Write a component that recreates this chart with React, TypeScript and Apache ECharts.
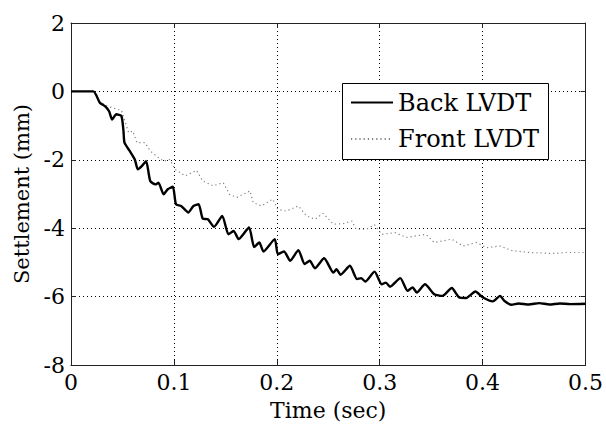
import React, { useEffect, useRef } from "react";
import * as echarts from "echarts";

const xTicks = [0, 0.1, 0.2, 0.3, 0.4, 0.5];
const yTicks = [-8, -6, -4, -2, 0, 2];

const backTime = [0, 0.0217, 0.028, 0.033, 0.037, 0.040, 0.044, 0.049, 0.051, 0.052, 0.057, 0.062, 0.065, 0.069, 0.073, 0.077, 0.082, 0.085, 0.090, 0.094, 0.099, 0.102, 0.107, 0.114, 0.119, 0.124, 0.128, 0.133, 0.139, 0.147, 0.153, 0.158, 0.163, 0.173, 0.178, 0.183, 0.187, 0.198, 0.201, 0.207, 0.213, 0.221, 0.227, 0.232, 0.237, 0.246, 0.255, 0.258, 0.262, 0.271, 0.278, 0.282, 0.286, 0.295, 0.302, 0.306, 0.310, 0.320, 0.327, 0.332, 0.336, 0.344, 0.353, 0.361, 0.370, 0.377, 0.384, 0.393, 0.400, 0.410, 0.417, 0.421, 0.428, 0.435, 0.445, 0.455, 0.465, 0.475, 0.485, 0.5];
const backValue = [0, 0, -0.33, -0.43, -0.58, -0.82, -0.67, -0.72, -1.16, -1.5, -1.74, -1.99, -2.28, -2.18, -2.04, -2.62, -2.72, -2.67, -3.01, -2.86, -2.79, -3.30, -3.35, -3.54, -3.35, -3.30, -3.72, -3.74, -3.96, -3.64, -4.18, -4.08, -4.32, -3.98, -4.55, -4.42, -4.68, -4.32, -4.76, -4.68, -4.95, -4.64, -5.05, -4.95, -5.17, -4.88, -5.3, -5.2, -5.36, -5.1, -5.49, -5.46, -5.56, -5.27, -5.64, -5.59, -5.71, -5.46, -5.83, -5.73, -5.88, -5.64, -5.93, -5.98, -5.75, -6.02, -6.04, -5.85, -6.02, -6.14, -5.98, -6.12, -6.24, -6.2, -6.23, -6.19, -6.23, -6.2, -6.22, -6.21];

const frontTime = [0, 0.0217, 0.028, 0.035, 0.046, 0.049, 0.056, 0.060, 0.064, 0.072, 0.077, 0.083, 0.090, 0.096, 0.101, 0.111, 0.122, 0.128, 0.138, 0.148, 0.154, 0.161, 0.174, 0.177, 0.185, 0.196, 0.201, 0.209, 0.221, 0.229, 0.237, 0.245, 0.255, 0.264, 0.273, 0.277, 0.287, 0.295, 0.302, 0.315, 0.326, 0.345, 0.353, 0.370, 0.381, 0.394, 0.404, 0.417, 0.429, 0.446, 0.468, 0.481, 0.5];
const frontValue = [0, 0, -0.3, -0.43, -0.53, -0.55, -1.21, -1.16, -1.5, -1.5, -1.74, -1.89, -2.04, -1.99, -2.28, -2.47, -2.31, -2.62, -2.76, -2.67, -3.01, -3.1, -2.91, -3.25, -3.35, -3.15, -3.45, -3.5, -3.35, -3.64, -3.74, -3.57, -3.88, -3.87, -3.79, -4.03, -4.03, -3.9, -4.18, -4.13, -4.27, -4.18, -4.42, -4.32, -4.52, -4.42, -4.57, -4.52, -4.66, -4.71, -4.74, -4.71, -4.71];

const seriesNames = ["Back LVDT", "Front LVDT"];

const FONT = "DejaVu Serif";

export default function App() {
  const ref = useRef<HTMLDivElement>(null);
  useEffect(() => {
    if (!ref.current) return;
    const chart = echarts.init(ref.current, undefined, { renderer: "svg" });
    const xMin = xTicks[0];
    const xMax = xTicks[xTicks.length - 1];
    const yMin = yTicks[0];
    const yMax = yTicks[yTicks.length - 1];
    const xInt = xTicks[1] - xTicks[0];
    const yInt = yTicks[1] - yTicks[0];
    const gridLine = { show: true, lineStyle: { color: "#000", width: 1, type: [1, 3] as any } };
    const axisLine = { show: true, onZero: false, lineStyle: { color: "#222", width: 1 } };
    const tick = { show: true, inside: true, length: 5, lineStyle: { color: "#222" } };
    const labelStyle = { color: "#000", fontFamily: FONT, fontSize: 22 };
    chart.setOption({
      animation: false,
      backgroundColor: "#fff",
      textStyle: { fontFamily: FONT },
      grid: { left: 71, right: 20, top: 23, bottom: 63, containLabel: false },
      xAxis: [
        {
          type: "value",
          min: xMin,
          max: xMax,
          interval: xInt,
          position: "bottom",
          axisLine,
          axisTick: tick,
          splitLine: gridLine,
          axisLabel: { ...labelStyle, margin: 6, formatter: (v: number) => String(Math.round(v * 10) / 10) },
          name: "Time (sec)",
          nameLocation: "middle",
          nameGap: 34,
          nameTextStyle: labelStyle,
        },
        {
          type: "value",
          min: xMin,
          max: xMax,
          interval: xInt,
          position: "top",
          axisLine,
          axisTick: tick,
          splitLine: { show: false },
          axisLabel: { show: false },
        },
      ],
      yAxis: [
        {
          type: "value",
          min: yMin,
          max: yMax,
          interval: yInt,
          position: "left",
          axisLine,
          axisTick: tick,
          splitLine: gridLine,
          axisLabel: { ...labelStyle, margin: 6 },
          name: "Settlement (mm)",
          nameLocation: "middle",
          nameGap: 38,
          nameTextStyle: { ...labelStyle, fontSize: 21 },
        },
        {
          type: "value",
          min: yMin,
          max: yMax,
          interval: yInt,
          position: "right",
          axisLine,
          axisTick: tick,
          splitLine: { show: false },
          axisLabel: { show: false },
        },
      ],
      legend: {
        data: seriesNames,
        orient: "vertical",
        left: 350,
        top: 87.5,
        padding: 0,
        itemWidth: 42,
        itemHeight: 14,
        itemGap: 6.5,
        backgroundColor: "transparent",
        itemStyle: { opacity: 0 },
        textStyle: { color: "#000", fontFamily: FONT, fontSize: 24, lineHeight: 30 },
        z: 10,
      },
      graphic: [
        {
          type: "rect",
          z: 8,
          shape: { x: 342.5, y: 83.5, width: 206, height: 76 },
          style: { fill: "#fff", stroke: "#000", lineWidth: 1 },
        },
      ],
      series: [
        {
          name: seriesNames[0],
          type: "line",
          xAxisIndex: 0,
          yAxisIndex: 0,
          showSymbol: false,
          symbol: "none",
          smooth: 0.2,
          lineStyle: { color: "#000", width: 2.4 },
          itemStyle: { color: "#000" },
          data: backTime.map((t, i) => [t, backValue[i]]),
          z: 3,
        },
        {
          name: seriesNames[1],
          type: "line",
          xAxisIndex: 0,
          yAxisIndex: 0,
          showSymbol: false,
          symbol: "none",
          lineStyle: { color: "#808080", width: 1.2, type: [1.2, 3] as any },
          itemStyle: { color: "#808080" },
          data: frontTime.map((t, i) => [t, frontValue[i]]),
          z: 2,
        },
      ],
    });
    return () => chart.dispose();
  }, []);
  return (
    <div
      ref={ref}
      style={{ position: "fixed", left: 0, top: 0, width: 606, height: 428 }}
    />
  );
}
